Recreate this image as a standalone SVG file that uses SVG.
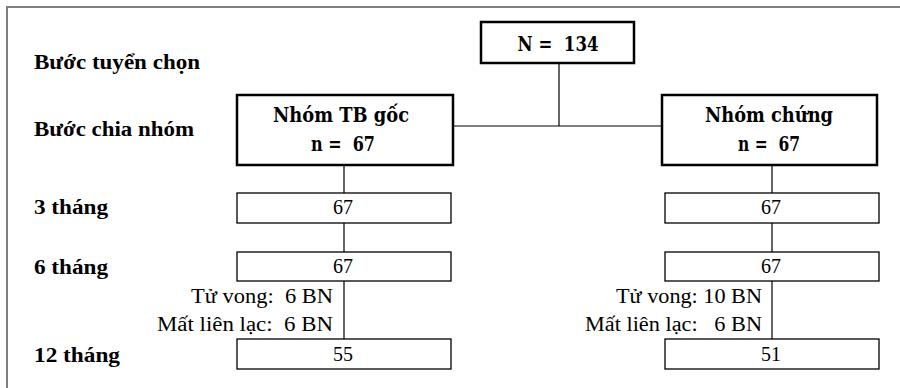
<svg xmlns="http://www.w3.org/2000/svg" width="900" height="388" viewBox="0 0 900 388">
<style>
.frame{fill:none;stroke:#7f7f7f;stroke-width:2}
.big{fill:#fff;stroke:#000;stroke-width:2.5}
.small{fill:#fff;stroke:#000;stroke-width:1.3}
.ln{fill:none;stroke:#000;stroke-width:1.2}
.lab{font-size:20px;font-weight:bold}
.bt{font-size:20px;font-weight:bold;text-anchor:middle}
.num{font-size:20px;text-anchor:middle}
.note{font-size:20px;text-anchor:end}
</style>
<rect width="900" height="388" fill="#fff"/>
<path class="frame" d="M7,388 V7 H900"/>
<g id="labels" font-family="'Liberation Serif', serif">
<text class="lab" x="34" y="69" textLength="166" lengthAdjust="spacingAndGlyphs">Bước tuyển chọn</text>
<text class="lab" x="34" y="136" textLength="160" lengthAdjust="spacingAndGlyphs">Bước chia nhóm</text>
<text class="lab" x="34" y="214" textLength="74" lengthAdjust="spacingAndGlyphs">3 tháng</text>
<text class="lab" x="34" y="274" textLength="74" lengthAdjust="spacingAndGlyphs">6 tháng</text>
<text class="lab" x="34" y="362" textLength="86" lengthAdjust="spacingAndGlyphs">12 tháng</text>
</g>
<g id="connectors">
<path class="ln" d="M559,63 V126 M453,126 H662"/>
<path class="ln" d="M344,165 V193 M344,223 V252 M344,281 V339"/>
<path class="ln" d="M772,165 V193 M772,223 V252 M772,281 V339"/>
</g>
<g font-family="'DejaVu Serif', serif">
<g id="total">
<rect class="big" x="481" y="22" width="153" height="41"/>
<text class="bt" x="558" y="51" textLength="81" lengthAdjust="spacingAndGlyphs" xml:space="preserve">N =  134</text>
</g>
<g id="stem">
<rect class="big" x="237" y="95" width="216" height="70"/>
<text class="bt" x="341" y="122" textLength="136" lengthAdjust="spacingAndGlyphs">Nhóm TB gốc</text>
<text class="bt" x="343" y="151" textLength="64" lengthAdjust="spacingAndGlyphs" xml:space="preserve">n =  67</text>
</g>
<g id="control">
<rect class="big" x="662" y="95" width="215" height="70"/>
<text class="bt" x="769" y="122" textLength="128" lengthAdjust="spacingAndGlyphs">Nhóm chứng</text>
<text class="bt" x="769" y="151" textLength="62" lengthAdjust="spacingAndGlyphs" xml:space="preserve">n =  67</text>
</g>
</g>
<g font-family="'Liberation Serif', serif">
<g id="stem3">
<rect class="small" x="237" y="193" width="214" height="30"/>
<text class="num" x="343" y="214">67</text>
</g>
<g id="stem6">
<rect class="small" x="237" y="252" width="214" height="29"/>
<text class="num" x="343" y="273">67</text>
</g>
<g id="stem12">
<rect class="small" x="237" y="339" width="214" height="30"/>
<text class="num" x="343" y="361">55</text>
</g>
<g id="control3">
<rect class="small" x="665" y="193" width="214" height="30"/>
<text class="num" x="771" y="214">67</text>
</g>
<g id="control6">
<rect class="small" x="665" y="252" width="214" height="29"/>
<text class="num" x="771" y="273">67</text>
</g>
<g id="control12">
<rect class="small" x="665" y="339" width="214" height="30"/>
<text class="num" x="771" y="361">51</text>
</g>
<g id="stem-loss">
<text class="note" x="333" y="303" textLength="142" lengthAdjust="spacingAndGlyphs" xml:space="preserve">Tử vong:  6 BN</text>
<text class="note" x="333" y="331" textLength="176" lengthAdjust="spacingAndGlyphs" xml:space="preserve">Mất liên lạc:  6 BN</text>
</g>
<g id="control-loss">
<text class="note" x="762" y="303" textLength="146" lengthAdjust="spacingAndGlyphs" xml:space="preserve">Tử vong: 10 BN</text>
<text class="note" x="762" y="331" textLength="177" lengthAdjust="spacingAndGlyphs" xml:space="preserve">Mất liên lạc:   6 BN</text>
</g>
</g>
</svg>
